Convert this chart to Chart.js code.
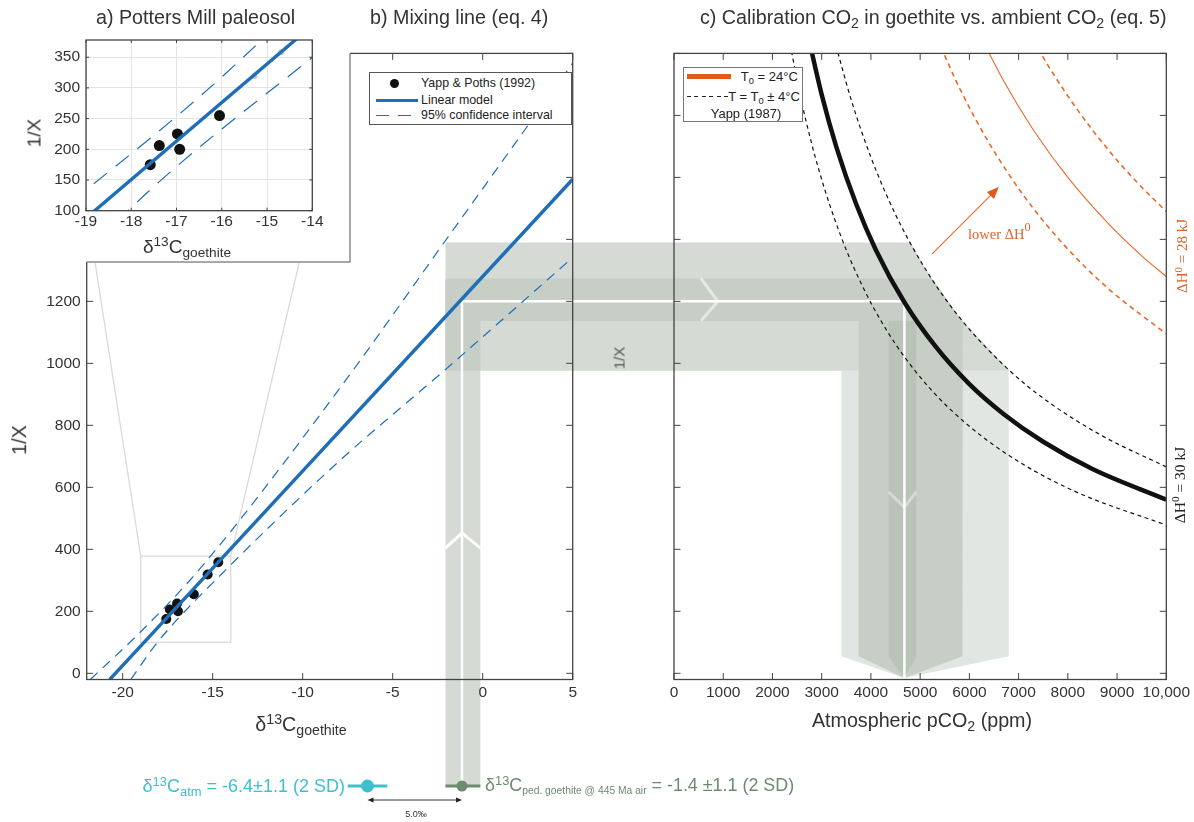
<!DOCTYPE html>
<html lang="en">
<head>
<meta charset="utf-8">
<title>Goethite mixing line and CO2 calibration</title>
<script src="https://cdn.jsdelivr.net/npm/chart.js@4.4.1/dist/chart.umd.min.js"></script>
<style>
html,body{margin:0;padding:0;background:#fff}
#wrap{position:relative;width:1194px;height:822px;overflow:hidden;font-family:"Liberation Sans",Arial,Helvetica,sans-serif;color:#333}
#wrap canvas{position:absolute;left:0;top:0}
.t{position:absolute;white-space:nowrap;line-height:1;z-index:5}
.c{transform:translate(-50%,-50%)}
.r{transform:translate(-50%,-50%) rotate(-90deg)}
.sup{font-size:0.72em;position:relative;top:-0.5em}
.sub{font-size:0.72em;position:relative;top:0.3em}
.serif{font-family:"Liberation Serif","Times New Roman",serif}
.leg{position:absolute;background:#fff;z-index:5;box-sizing:border-box}
.leg .t{font-size:12.4px;color:#222}
</style>
</head>
<body>
<div id="wrap">
<canvas id="cB" width="1194" height="822" style="z-index:1"></canvas>
<canvas id="cC" width="1194" height="822" style="z-index:2"></canvas>
<canvas id="cA" width="1194" height="822" style="z-index:3"></canvas>

<div class="t" style="left:96px;top:8px;font-size:19.7px">a) Potters Mill paleosol</div>
<div class="t" style="left:370px;top:8px;font-size:19.7px">b) Mixing line (eq. 4)</div>
<div class="t" style="left:700px;top:8px;font-size:19.7px">c) Calibration CO<span class="sub">2</span> in goethite vs. ambient CO<span class="sub">2</span> (eq. 5)</div>

<div class="t r" style="left:34px;top:133px;font-size:19px">1/X</div>
<div class="t c" style="left:187px;top:246px;font-size:19px">δ<span class="sup">13</span>C<span class="sub">goethite</span></div>
<div class="t r" style="left:20px;top:440px;font-size:19.7px">1/X</div>
<div class="t c" style="left:301px;top:725px;font-size:19.7px">δ<span class="sup">13</span>C<span class="sub">goethite</span></div>
<div class="t c" style="left:922px;top:721px;font-size:19.7px">Atmospheric pCO<span class="sub">2</span> (ppm)</div>
<div class="t r" style="left:619px;top:358px;font-size:15px;color:#555">1/X</div>

<div class="t r serif" style="left:1182px;top:256px;font-size:15px;color:#e0622a">ΔH<span class="sup">0</span> = 28 kJ</div>
<div class="t r serif" style="left:1180px;top:485px;font-size:15.5px;color:#222">ΔH<span class="sup">0</span> = 30 kJ</div>
<div class="t serif" style="left:968px;top:227px;font-size:14.5px;color:#e0622a">lower ΔH<span style="font-size:0.85em;position:relative;top:-0.65em">0</span></div>

<div class="t" style="right:849px;top:777px;font-size:18px;color:#3fbfcc;text-align:right">δ<span class="sup">13</span>C<span class="sub">atm</span> = -6.4±1.1 (2 SD)</div>
<div class="t" style="left:485px;top:777px;font-size:17.9px;color:#6d8b6f">δ<span class="sup">13</span>C<span class="sub" style="font-size:10.3px">ped. goethite @ 445 Ma air</span> = -1.4 ±1.1 (2 SD)</div>
<div class="t c" style="left:416px;top:814px;font-size:9px;color:#333">5.0‰</div>

<div class="leg" style="left:369px;top:72px;width:203px;height:53px;border:1px solid #555">
  <div style="position:absolute;left:20px;top:6px;width:9px;height:9px;border-radius:50%;background:#111"></div>
  <div class="t" style="left:51px;top:4px">Yapp &amp; Poths (1992)</div>
  <div style="position:absolute;left:6px;top:25.7px;width:42px;height:3.2px;background:#1e6eb8"></div>
  <div class="t" style="left:51px;top:21px">Linear model</div>
  <div style="position:absolute;left:6px;top:41.7px;width:42px;height:1.3px;background:repeating-linear-gradient(90deg,#1e6eb8 0 13px,transparent 13px 22px)"></div>
  <div class="t" style="left:51px;top:36px">95% confidence interval</div>
</div>

<div class="leg" style="left:683px;top:66.7px;width:119.5px;height:55px;border:1px solid #777">
  <div style="position:absolute;left:3px;top:6.8px;width:44px;height:5px;background:#e05a1c"></div>
  <div class="t" style="right:3.7px;top:2.8px;font-size:13px">T<span class="sub">0</span> = 24°C</div>
  <div style="position:absolute;left:3px;top:28.2px;width:44px;height:1.2px;background:repeating-linear-gradient(90deg,#222 0 4px,transparent 4px 7.5px)"></div>
  <div class="t" style="right:1.7px;top:22.3px;font-size:13px">T = T<span class="sub">0</span> ± 4°C</div>
  <div class="t c" style="left:62px;top:45px;font-size:13px">Yapp (1987)</div>
</div>
</div>

<script>
// ---------------- DATA ----------------
// Yapp & Poths (1992), Potters Mill paleosol
const D13C_GOETHITE = [-17.58, -17.38, -16.98, -16.93, -16.05, -15.28, -14.69];
const INV_X = [175, 206, 225, 200, 255, 319, 358];
// Linear model (end points)
const FIT_X = [-20.72, 5];
const FIT_Y = [-20, 1594];
// 95% confidence interval
const CI_UP_X = [-21.8, -19, -15.67, -8, -1.65, 5];
const CI_UP_Y = [-20, 134, 340, 915, 1430, 1969];
const CI_LO_X = [-19.55, -18.07, -14.3, -8, -2.09, 5.05];
const CI_LO_Y = [-20, 100, 332, 683, 979, 1344];

// Panel c calibration curves: pCO2 (ppm) vs 1/X
const PCO2_T0 = [2700, 3000, 3300, 3700, 4100, 4680, 5300, 6000, 6700, 7500, 8500, 10000];
const INVX_T0 = [2074, 1867, 1697, 1514, 1366, 1197, 1057, 933, 836, 747, 659, 560];
const PCO2_LO = [2300, 2600, 2950, 3400, 3900, 4500, 5200, 6000, 7000, 8200, 10000];
const INVX_LO = [2078, 1838, 1620, 1406, 1226, 1062, 919, 797, 683, 583, 478];
const PCO2_HI = [3250, 3600, 4000, 4500, 5100, 5800, 6800, 7600, 8700, 10000];
const INVX_HI = [2049, 1850, 1665, 1480, 1306, 1148, 979, 876, 766, 666];
const PCO2_OR_LO = [5350, 5800, 6400, 7100, 7900, 8800, 10000];
const INVX_OR_LO = [2047, 1888, 1711, 1542, 1386, 1244, 1095];
const PCO2_OR_MID = [6250, 6700, 7300, 8000, 8800, 9500, 10000];
const INVX_OR_MID = [2048, 1910, 1753, 1600, 1455, 1347, 1280];
const PCO2_OR_HI = [7300, 7700, 8200, 8800, 9400, 10000];
const INVX_OR_HI = [2041, 1935, 1817, 1693, 1585, 1490];

// Uncertainty bands carried from b to c
const BAND_D13C = [-2.07, -0.13];
const BEST_D13C = -1.15;
const INVX_WIDE = [976, 1390];
const INVX_NARROW = [1137, 1274];
const INVX_BEST = 1200;
const PCO2_OUTER = [3400, 6800];
const PCO2_MID = [3750, 5860];
const PCO2_INNER = [4360, 4920];
const PCO2_BEST = 4680;

// Bottom markers
const ATM_D13C = -6.4;
const ATM_ERR = 1.1;

// Ticks
const B_X_TICKS = [-20, -15, -10, -5, 0, 5];
const B_X_LABELS = ['-20', '-15', '-10', '-5', '0', '5'];
const B_Y_TICKS = [0, 200, 400, 600, 800, 1000, 1200, 1400, 1600, 1800, 2000];
const B_Y_LABELS = ['0', '200', '400', '600', '800', '1000', '1200', '1400', '1600', '1800', '2000'];
const A_X_TICKS = [-19, -18, -17, -16, -15, -14];
const A_X_LABELS = ['-19', '-18', '-17', '-16', '-15', '-14'];
const A_Y_TICKS = [100, 150, 200, 250, 300, 350];
const A_Y_LABELS = ['100', '150', '200', '250', '300', '350'];
const C_X_TICKS = [0, 1000, 2000, 3000, 4000, 5000, 6000, 7000, 8000, 9000, 10000];
const C_X_LABELS = ['0', '1000', '2000', '3000', '4000', '5000', '6000', '7000', '8000', '9000', '10,000'];

// ---------------- STYLE / LAYOUT ----------------
const W = 1194, H = 822;
const FONT = '"Liberation Sans", Arial, Helvetica, sans-serif';
Chart.defaults.font.family = FONT;
Chart.defaults.color = '#333';
const BLUE = '#1e6eb8';
const ORANGE = '#e8692b';
const AXIS = '#444';
const B_AREA = {left: 86.7, right: 572.7, top: 53.4, bottom: 679.5};
const C_AREA = {left: 674, right: 1168, top: 53.4, bottom: 679.5};
const A_AREA = {left: 86, right: 312.3, top: 40, bottom: 210.7};
const C_LIGHTEST = '#e2e6e2', C_LIGHT = '#d5dad4', C_MEDIUM = '#c6cec5', C_DARK = '#b9c3b8';

function xy(xs, ys) { return xs.map((x, i) => ({x: x, y: ys[i]})); }
function pad(area, xh) { return {left: 0, top: area.top, right: W - area.right, bottom: H - area.bottom - xh}; }
function scale(min, max, ticks, labels, fit, opts) {
  return Object.assign({
    type: 'linear', min: min, max: max,
    afterBuildTicks: s => { s.ticks = ticks.map(v => ({value: v})); },
    afterFit: fit,
    grid: {display: false, drawTicks: false},
    border: {display: false},
    ticks: {callback: (v, i) => labels[i], autoSkip: false, maxRotation: 0, color: '#333', font: {size: 15.5}, padding: 4}
  }, opts || {});
}
function line(xs, ys, color, w, dash) {
  return {type: 'line', data: xy(xs, ys), borderColor: color, borderWidth: w, borderDash: dash || [],
    pointRadius: 0, fill: false, cubicInterpolationMode: 'monotone', clip: 0};
}
function frame(tl, xTicks, yTicks) {
  return {id: 'frame', afterDatasetsDraw(chart) {
    const ctx = chart.ctx, a = chart.chartArea, sx = chart.scales.x, sy = chart.scales.y;
    ctx.save();
    ctx.strokeStyle = AXIS; ctx.lineWidth = 1;
    ctx.beginPath();
    xTicks.forEach(v => { const p = sx.getPixelForValue(v);
      ctx.moveTo(p, a.bottom); ctx.lineTo(p, a.bottom - tl); ctx.moveTo(p, a.top); ctx.lineTo(p, a.top + tl); });
    yTicks.forEach(v => { const p = sy.getPixelForValue(v);
      ctx.moveTo(a.left, p); ctx.lineTo(a.left + tl, p); ctx.moveTo(a.right, p); ctx.lineTo(a.right - tl, p); });
    ctx.stroke();
    ctx.lineWidth = 1.3;
    ctx.strokeRect(a.left, a.top, a.right - a.left, a.bottom - a.top);
    ctx.restore();
  }};
}
function curveXAt(xs, ys, yv) {
  for (let i = 0; i < xs.length - 1; i++) {
    if ((ys[i] - yv) * (ys[i + 1] - yv) <= 0) {
      const t = (yv - ys[i]) / (ys[i + 1] - ys[i]);
      return xs[i] + t * (xs[i + 1] - xs[i]);
    }
  }
  return xs[xs.length - 1];
}
function curveSegment(xs, ys, yTop, yBot) {
  const pts = [[curveXAt(xs, ys, yTop), yTop]];
  for (let i = 0; i < xs.length; i++) if (ys[i] < yTop && ys[i] > yBot) pts.push([xs[i], ys[i]]);
  pts.push([curveXAt(xs, ys, yBot), yBot]);
  return pts;
}
const common = {responsive: false, animation: false, devicePixelRatio: 1, events: [],
  plugins: {legend: {display: false}, tooltip: {enabled: false}}};

// ---------------- PANEL C ----------------
const chartC = new Chart(document.getElementById('cC'), {
  type: 'line',
  data: {datasets: [
    line(PCO2_OR_HI, INVX_OR_HI, ORANGE, 1.6, [5, 4]),
    line(PCO2_OR_MID, INVX_OR_MID, ORANGE, 1.1),
    line(PCO2_OR_LO, INVX_OR_LO, ORANGE, 1.6, [5, 4]),
    line(PCO2_HI, INVX_HI, '#111', 1.2, [4, 3.5]),
    line(PCO2_LO, INVX_LO, '#111', 1.2, [4, 3.5]),
    line(PCO2_T0, INVX_T0, '#111', 4.5)
  ]},
  options: Object.assign({}, common, {
    layout: {padding: pad(C_AREA, 40)},
    scales: {
      x: scale(0, 10000, C_X_TICKS, C_X_LABELS, s => { s.height = 40; }),
      y: scale(-20, 2000, B_Y_TICKS, B_Y_LABELS, s => { s.width = C_AREA.left; },
        {ticks: {display: false}})
    }
  }),
  plugins: [frame(6.5, C_X_TICKS, B_Y_TICKS), {
    id: 'arrow', afterDatasetsDraw(chart) {
      const ctx = chart.ctx, sx = chart.scales.x, sy = chart.scales.y;
      const x0 = sx.getPixelForValue(5243), y0 = sy.getPixelForValue(1353);
      const x1 = sx.getPixelForValue(6599), y1 = sy.getPixelForValue(1569);
      const ang = Math.atan2(y1 - y0, x1 - x0);
      ctx.save();
      ctx.strokeStyle = ORANGE; ctx.fillStyle = '#e05a1c'; ctx.lineWidth = 1.1;
      ctx.beginPath(); ctx.moveTo(x0, y0);
      ctx.lineTo(x1 - 9 * Math.cos(ang), y1 - 9 * Math.sin(ang)); ctx.stroke();
      ctx.beginPath(); ctx.moveTo(x1, y1);
      ctx.lineTo(x1 - 12 * Math.cos(ang) + 5 * Math.sin(ang), y1 - 12 * Math.sin(ang) - 5 * Math.cos(ang));
      ctx.lineTo(x1 - 12 * Math.cos(ang) - 5 * Math.sin(ang), y1 - 12 * Math.sin(ang) + 5 * Math.cos(ang));
      ctx.closePath(); ctx.fill();
      ctx.restore();
    }
  }]
});

// ---------------- PANEL A (inset) ----------------
const chartA = new Chart(document.getElementById('cA'), {
  type: 'line',
  data: {datasets: [
    line(CI_UP_X, CI_UP_Y, BLUE, 1.2, [17, 11]),
    line(CI_LO_X, CI_LO_Y, BLUE, 1.2, [17, 11]),
    line(FIT_X, FIT_Y, BLUE, 3.4),
    {type: 'scatter', data: xy(D13C_GOETHITE, INV_X),
      backgroundColor: ['#111', '#111', '#111', '#111', '#111', '#c9c9c9', '#c9c9c9'],
      pointRadius: [5.5, 5.5, 5.5, 5.5, 5.5, 3, 3], borderWidth: 0, clip: 0}
  ]},
  options: Object.assign({}, common, {
    layout: {padding: pad(A_AREA, 30)},
    scales: {
      x: scale(-19, -14, A_X_TICKS, A_X_LABELS, s => { s.height = 30; },
        {grid: {display: true, drawTicks: false, color: '#e4e4e4'}, ticks: {callback: (v, i) => A_X_LABELS[i], autoSkip: false, maxRotation: 0, color: '#333', font: {size: 15.5}, padding: 2}}),
      y: scale(100, 378, A_Y_TICKS, A_Y_LABELS, s => { s.width = A_AREA.left; },
        {grid: {display: true, drawTicks: false, color: '#e4e4e4'}, ticks: {callback: (v, i) => A_Y_LABELS[i], autoSkip: false, color: '#333', font: {size: 15.5}, padding: 6}})
    }
  }),
  plugins: [{
    id: 'insetBox', beforeDraw(chart) {
      const ctx = chart.ctx;
      ctx.save();
      ctx.fillStyle = '#fff'; ctx.fillRect(0, 0, 350, 262);
      ctx.strokeStyle = '#8c8c8c'; ctx.lineWidth = 1.5;
      ctx.beginPath(); ctx.moveTo(B_AREA.left, 262); ctx.lineTo(350, 262); ctx.lineTo(350, B_AREA.top); ctx.stroke();
      ctx.restore();
    }
  }, frame(3, A_X_TICKS, A_Y_TICKS)]
});

// ---------------- PANEL B ----------------
const BAND_END_PX = 786;
const chartB = new Chart(document.getElementById('cB'), {
  type: 'line',
  data: {datasets: [
    line(CI_UP_X, CI_UP_Y, BLUE, 1.2, [10, 7]),
    line(CI_LO_X, CI_LO_Y, BLUE, 1.2, [10, 7]),
    line(FIT_X, FIT_Y, BLUE, 3.4),
    {type: 'scatter', data: xy(D13C_GOETHITE, INV_X), backgroundColor: '#111', pointRadius: 5, borderWidth: 0}
  ]},
  options: Object.assign({}, common, {
    layout: {padding: pad(B_AREA, 40)},
    scales: {
      x: scale(-22, 5, B_X_TICKS, B_X_LABELS, s => { s.height = 40; }),
      y: scale(-20, 2000, B_Y_TICKS, B_Y_LABELS, s => { s.width = B_AREA.left; },
        {ticks: {callback: (v, i) => B_Y_LABELS[i], autoSkip: false, color: '#333', font: {size: 15.5}, padding: 6}})
    }
  }),
  plugins: [{
    id: 'bands', beforeDraw(chart) {
      const ctx = chart.ctx;
      const bx = v => chart.scales.x.getPixelForValue(v);
      const py = v => chart.scales.y.getPixelForValue(v);
      const cx = v => chartC.scales.x.getPixelForValue(v);
      const poly = (pts, fill) => {
        ctx.beginPath();
        pts.forEach((p, i) => i ? ctx.lineTo(p[0], p[1]) : ctx.moveTo(p[0], p[1]));
        ctx.closePath(); ctx.fillStyle = fill; ctx.fill();
      };
      const b0 = BAND_D13C[0], b1 = BAND_D13C[1];
      const w0 = INVX_WIDE[0], w1 = INVX_WIDE[1], n0 = INVX_NARROW[0], n1 = INVX_NARROW[1];
      const yC = py(55), yT = py(-15);
      ctx.save();
      poly([[cx(PCO2_OUTER[0]), py(w0)], [cx(PCO2_OUTER[1]), py(w0)], [cx(PCO2_OUTER[1]), yC],
        [cx(PCO2_BEST), yT], [cx(PCO2_OUTER[0]), yC]], C_LIGHTEST);
      const segW = curveSegment(PCO2_HI, INVX_HI, w1, w0).map(p => [cx(p[0]), py(p[1])]);
      poly([[bx(b0), py(w1)]].concat(segW, [[bx(b1), py(w0)], [bx(b1), BAND_END_PX], [bx(b0), BAND_END_PX]]), C_LIGHT);
      const segN = curveSegment(PCO2_HI, INVX_HI, n1, n0).map(p => [cx(p[0]), py(p[1])]);
      poly([[bx(b0), py(n1)]].concat(segN, [[cx(PCO2_MID[1]), yC], [cx(PCO2_BEST), yT], [cx(PCO2_MID[0]), yC],
        [cx(PCO2_MID[0]), py(n0)], [bx(b1), py(n0)], [bx(b1), py(w0)], [bx(b0), py(w0)]]), C_MEDIUM);
      poly([[cx(PCO2_INNER[0]), py(n0)], [cx(PCO2_INNER[1]), py(n0)], [cx(PCO2_INNER[1]), yC],
        [cx(PCO2_BEST), yT], [cx(PCO2_INNER[0]), yC]], C_DARK);
      // white best-estimate path
      ctx.strokeStyle = '#fff'; ctx.lineWidth = 2.5; ctx.lineJoin = 'miter';
      ctx.beginPath();
      ctx.moveTo(bx(BEST_D13C), BAND_END_PX); ctx.lineTo(bx(BEST_D13C), py(INVX_BEST));
      ctx.lineTo(cx(PCO2_BEST), py(INVX_BEST)); ctx.lineTo(cx(PCO2_BEST), yT);
      ctx.stroke();
      // chevrons (flow direction)
      ctx.lineWidth = 3;
      ctx.beginPath(); ctx.moveTo(bx(b0), py(404)); ctx.lineTo(bx(BEST_D13C), py(453)); ctx.lineTo(bx(b1), py(404)); ctx.stroke();
      ctx.strokeStyle = 'rgba(255,255,255,0.55)';
      ctx.beginPath(); ctx.moveTo(cx(547), py(n1)); ctx.lineTo(cx(890), py(INVX_BEST)); ctx.lineTo(cx(547), py(n0)); ctx.stroke();
      ctx.strokeStyle = 'rgba(255,255,255,0.4)';
      ctx.beginPath(); ctx.moveTo(cx(PCO2_INNER[0]), py(585)); ctx.lineTo(cx(PCO2_BEST), py(536)); ctx.lineTo(cx(PCO2_INNER[1]), py(585)); ctx.stroke();
      ctx.restore();
    },
    beforeDatasetsDraw(chart) {
      const ctx = chart.ctx;
      const bx = v => chart.scales.x.getPixelForValue(v);
      const py = v => chart.scales.y.getPixelForValue(v);
      const x0 = bx(chartA.scales.x.min), x1 = bx(chartA.scales.x.max);
      const y0 = py(chartA.scales.y.min), y1 = py(chartA.scales.y.max);
      const aa = chartA.chartArea;
      ctx.save();
      ctx.strokeStyle = '#dadada'; ctx.lineWidth = 1.3;
      ctx.strokeRect(x0, y1, x1 - x0, y0 - y1);
      ctx.beginPath();
      ctx.moveTo(x0, y1); ctx.lineTo(aa.left + 1, aa.bottom);
      ctx.moveTo(x1, y1); ctx.lineTo(aa.right - 1, aa.bottom);
      ctx.stroke();
      ctx.restore();
    },
    afterDraw(chart) {
      const ctx = chart.ctx;
      const bx = v => chart.scales.x.getPixelForValue(v);
      const Y = 786;
      ctx.save();
      // atmospheric
      ctx.strokeStyle = '#3fbfcc'; ctx.fillStyle = '#3fbfcc'; ctx.lineWidth = 3;
      ctx.beginPath(); ctx.moveTo(bx(ATM_D13C - ATM_ERR), Y); ctx.lineTo(bx(ATM_D13C + ATM_ERR), Y); ctx.stroke();
      ctx.beginPath(); ctx.arc(bx(ATM_D13C), Y, 6.5, 0, Math.PI * 2); ctx.fill();
      // goethite
      ctx.strokeStyle = '#6d8b6f'; ctx.fillStyle = '#6d8b6f';
      ctx.beginPath(); ctx.moveTo(bx(BAND_D13C[0]), Y); ctx.lineTo(bx(BAND_D13C[1]), Y); ctx.stroke();
      ctx.beginPath(); ctx.arc(bx(BEST_D13C), Y, 5.5, 0, Math.PI * 2); ctx.fill();
      // 5.0 permil double arrow
      const xa = bx(ATM_D13C), xb = bx(BEST_D13C), ya = 800;
      ctx.strokeStyle = '#222'; ctx.fillStyle = '#222'; ctx.lineWidth = 0.9;
      ctx.beginPath(); ctx.moveTo(xa + 4, ya); ctx.lineTo(xb - 4, ya); ctx.stroke();
      ctx.beginPath(); ctx.moveTo(xa, ya); ctx.lineTo(xa + 6, ya - 2.5); ctx.lineTo(xa + 6, ya + 2.5); ctx.closePath(); ctx.fill();
      ctx.beginPath(); ctx.moveTo(xb, ya); ctx.lineTo(xb - 6, ya - 2.5); ctx.lineTo(xb - 6, ya + 2.5); ctx.closePath(); ctx.fill();
      ctx.restore();
    }
  }, frame(6.5, B_X_TICKS, B_Y_TICKS)]
});
</script>
</body>
</html>
